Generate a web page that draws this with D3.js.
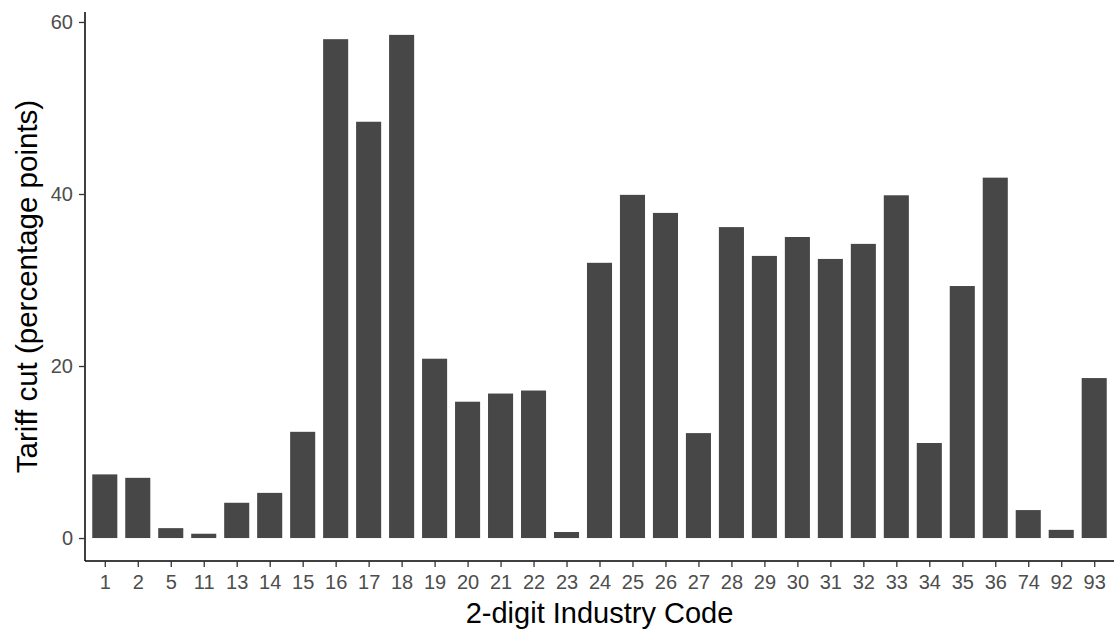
<!DOCTYPE html>
<html>
<head>
<meta charset="utf-8">
<script src="https://cdn.jsdelivr.net/npm/d3@7"></script>
<style>
  body { margin: 0; background: #fff; }
  svg { font-family: "Liberation Sans", Arial, sans-serif; }
</style>
</head>
<body>
<svg id="chart" width="1117" height="633"></svg>
<script>
// industry codes and tariff cuts (percentage points)
const codes = ["1", "2", "5", "11", "13", "14", "15", "16", "17", "18", "19", "20", "21", "22", "23",
  "24", "25", "26", "27", "28", "29", "30", "31", "32", "33", "34", "35", "36", "74", "92", "93"];
const tariffCut = [7.4, 7.0, 1.15, 0.5, 4.1, 5.25, 12.35, 58.0, 48.4, 58.5, 20.85, 15.85, 16.8, 17.15, 0.7,
  32.0, 39.9, 37.8, 12.2, 36.15, 32.8, 35.0, 32.45, 34.2, 39.85, 11.05, 29.3, 41.9, 3.25, 0.95, 18.6];
const yTicks = [0, 20, 40, 60];

var margin = { top: 12, right: 3, bottom: 72, left: 85 };
const svg = d3.select("#chart");
var width = 1117 - margin.left - margin.right;
var height = 633 - margin.top - margin.bottom;

const g = svg.append("g")
  .attr("transform", `translate(${margin.left},${margin.top})`);

const data = codes.map((c, i) => ({ code: c, value: tariffCut[i] }));

// discrete scale with 0.6 band expansion like ggplot
const step = width / (codes.length - 1 + 1.2);
const x = d3.scalePoint()
  .domain(codes)
  .range([0.6 * step, width - 0.6 * step]);
const barW = step * 0.76;

const y = d3.scaleLinear()
  .domain([-2.67, 61.16])
  .range([height, 0]);

g.selectAll(".bar")
  .data(data)
  .enter()
  .append("rect")
  .attr("class", "bar")
  .attr("x", (d) => x(d.code) - barW / 2)
  .attr("width", barW)
  .attr("y", (d) => y(d.value))
  .attr("height", (d) => y(0) - y(d.value))
  .style("fill", "#474747");

const xAxis = g.append("g")
  .attr("transform", `translate(0,${height})`)
  .call(d3.axisBottom(x).tickSize(6).tickPadding(8));
xAxis.select(".domain").attr("d", `M0,0H${width}`).style("stroke", "#000").style("stroke-width", 1.5);
xAxis.selectAll(".tick line").style("stroke", "#333").style("stroke-width", 1.3);

const yAxis = g.append("g")
  .call(d3.axisLeft(y).tickValues(yTicks).tickSize(6).tickPadding(6));
yAxis.select(".domain").attr("d", `M0,0V${height}`).style("stroke", "#000").style("stroke-width", 1.5);
yAxis.selectAll(".tick line").style("stroke", "#333").style("stroke-width", 1.3);

svg.selectAll(".tick text")
  .attr("font-family", null)
  .attr("font-size", null)
  .style("font-size", "20px")
  .style("fill", "#4d4d4d");

svg.append("text")
  .attr("x", margin.left + width / 2)
  .attr("y", 623)
  .attr("text-anchor", "middle")
  .style("font-size", "29px")
  .style("fill", "#000")
  .text("2-digit Industry Code");

svg.append("text")
  .attr("transform", `translate(37,${margin.top + height / 2}) rotate(-90)`)
  .attr("text-anchor", "middle")
  .style("font-size", "29.5px")
  .style("fill", "#000")
  .text("Tariff cut (percentage points)");
</script>
</body>
</html>
